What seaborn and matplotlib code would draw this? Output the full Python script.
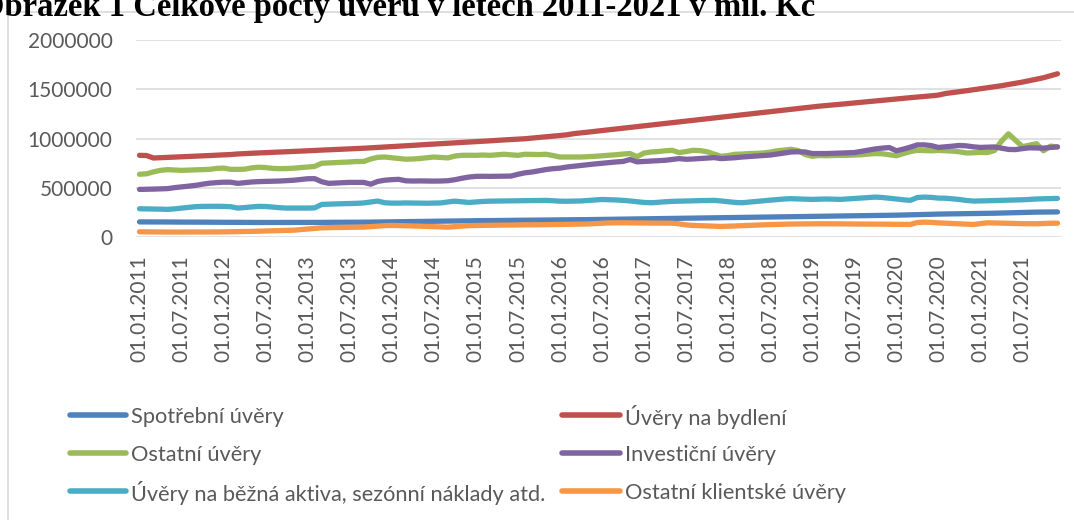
import matplotlib
matplotlib.use('Agg')
import matplotlib.pyplot as plt
from matplotlib.lines import Line2D
from matplotlib.patches import Rectangle
from matplotlib.ticker import FuncFormatter
import numpy as np
import pandas as pd
import seaborn as sns

# --- Data (thousands CZK), monthly 01/2011 - 12/2021 ---
months = pd.date_range('2011-01-01', '2021-12-01', freq='MS')

spotrebni = [
    158, 158, 157, 157, 157, 156, 156, 156, 155, 155, 155, 154,
    154, 154, 153, 153, 152, 152, 152, 152, 152, 152, 152, 153,
    153, 153, 153, 154, 154, 154, 155, 155, 155, 156, 157, 158,
    159, 160, 161, 162, 163, 164, 165, 166, 167, 167, 168, 169,
    170, 171, 171, 172, 173, 173, 174, 175, 175, 176, 177, 177,
    178, 179, 180, 180, 181, 182, 183, 184, 185, 186, 187, 188,
    189, 190, 191, 192, 193, 194, 195, 196, 197, 198, 199, 200,
    201, 202, 203, 204, 205, 206, 207, 208, 209, 210, 211, 212,
    213, 214, 215, 216, 217, 218, 219, 220, 221, 222, 223, 224,
    226, 228, 230, 232, 234, 235, 237, 238, 239, 240, 241, 242,
    243, 244, 246, 248, 250, 252, 254, 256, 257, 258, 258, 259,
]
bydleni = [
    832, 830, 805, 808, 811, 815, 818, 821, 824, 827, 830, 834,
    837, 840, 846, 850, 853, 856, 859, 862, 866, 869, 872, 875,
    878, 882, 885, 888, 891, 894, 898, 901, 904, 908, 912, 917,
    921, 925, 929, 933, 938, 942, 946, 950, 954, 959, 963, 967,
    971, 975, 979, 984, 988, 992, 996, 1000, 1007, 1013, 1020, 1026,
    1033, 1040, 1052, 1059, 1067, 1075, 1083, 1091, 1099, 1107, 1115, 1123,
    1131, 1139, 1147, 1155, 1163, 1171, 1179, 1187, 1195, 1203, 1211, 1219,
    1227, 1235, 1243, 1251, 1259, 1267, 1275, 1283, 1291, 1299, 1307, 1315,
    1323, 1330, 1336, 1343, 1349, 1356, 1363, 1369, 1376, 1382, 1389, 1396,
    1402, 1409, 1416, 1422, 1429, 1435, 1442, 1458, 1467, 1476, 1486, 1496,
    1506, 1516, 1526, 1537, 1549, 1561, 1574, 1588, 1603, 1618, 1638, 1658,
]
ostatni = [
    640, 645, 665, 680, 687, 683, 680, 682, 685, 688, 690, 700,
    703, 690, 690, 692, 705, 712, 708, 700, 697, 698, 702, 708,
    713, 720, 752, 755, 757, 760, 765, 770, 770, 795, 812, 815,
    808, 800, 793, 795, 800, 808, 815, 810, 806, 825, 832, 833,
    832, 835, 832, 838, 843, 838, 832, 843, 842, 840, 843, 830,
    815, 815, 815, 815, 818, 822, 828, 833, 838, 845, 850, 818,
    855, 866, 870, 878, 883, 860, 870, 883, 880, 868, 845, 822,
    830, 843, 845, 850, 852, 856, 865, 878, 885, 893, 880, 840,
    822, 830, 828, 830, 832, 832, 835, 838, 845, 850, 848, 838,
    828, 850, 870, 883, 880, 878, 882, 878, 875, 868, 856, 858,
    862, 860, 880, 975, 1050, 985, 920, 935, 950, 878, 925, 918,
]
investicni = [
    487, 488, 490, 492, 495, 505, 512, 520, 528, 540, 550, 556,
    560, 560, 548, 555, 562, 566, 568, 570, 572, 576, 580, 588,
    595, 596, 565, 548, 552, 555, 558, 558, 558, 540, 568, 580,
    586, 589, 574, 572, 573, 572, 571, 572, 575, 585, 600, 612,
    619, 620, 619, 620, 620, 622, 640, 655, 663, 675, 688, 697,
    702, 714, 722, 730, 738, 745, 752, 758, 765, 770, 790, 766,
    770, 775, 779, 782, 790, 799, 792, 795, 800, 805, 809, 799,
    803, 808, 815, 820, 825, 830, 835, 845, 855, 866, 868, 866,
    850, 850, 850, 852, 855, 858, 860, 872, 885, 897, 905, 911,
    878, 895, 915, 938, 938, 930, 912, 918, 925, 932, 928, 918,
    912, 914, 917, 905, 892, 890, 900, 908, 907, 905, 912, 917,
]
bezna_aktiva = [
    291, 290, 289, 287, 285, 290, 298, 305, 312, 315, 316, 316,
    315, 312, 298, 303, 310, 315, 314, 308, 302, 298, 298, 298,
    298, 300, 335, 338, 340, 342, 344, 346, 350, 360, 369, 352,
    348, 348, 350, 349, 348, 347, 348, 350, 360, 368, 362, 355,
    360, 365, 368, 369, 370, 371, 372, 373, 374, 376, 376, 372,
    368, 367, 369, 370, 375, 380, 385, 383, 380, 376, 370, 362,
    355, 352, 356, 362, 366, 368, 370, 372, 374, 375, 376, 370,
    362, 355, 352, 358, 365, 372, 378, 384, 390, 393, 390, 388,
    386, 388, 390, 388, 386, 390, 395, 400, 405, 409, 405, 398,
    390, 382, 376, 405, 409, 406, 399, 398, 392, 385, 375, 369,
    370, 372, 374, 376, 378, 380, 382, 386, 390, 392, 394, 396,
]
klientske = [
    58, 57, 56, 55, 55, 55, 55, 54, 54, 54, 55, 56,
    57, 58, 60, 61, 62, 64, 65, 67, 69, 71, 74, 80,
    86, 92, 98, 100, 101, 102, 103, 104, 105, 110, 115, 120,
    122, 121, 119, 117, 115, 112, 110, 107, 105, 110, 116, 120,
    122, 123, 124, 125, 126, 127, 127, 128, 128, 129, 130, 130,
    131, 132, 133, 134, 137, 141, 145, 148, 149, 149, 148, 147,
    147, 146, 146, 145, 145, 138, 128, 122, 120, 117, 114, 112,
    114, 117, 120, 123, 126, 129, 131, 133, 135, 136, 137, 138,
    139, 139, 139, 138, 138, 137, 137, 136, 136, 135, 135, 134,
    133, 132, 132, 152, 155, 153, 148, 145, 142, 139, 135, 132,
    140, 149, 147, 145, 143, 141, 140, 139, 139, 142, 144, 145,
]

series_names = [
    'Spotřební úvěry',
    'Úvěry na bydlení',
    'Ostatní úvěry',
    'Investiční úvěry',
    'Úvěry na běžná aktiva, sezónní náklady atd.',
    'Ostatní klientské úvěry',
]
series_values = [spotrebni, bydleni, ostatni, investicni, bezna_aktiva, klientske]
colors = ['#4F81BD', '#C0504D', '#9BBB59', '#8064A2', '#4BACC6', '#F79646']

y_ticks = [0, 500000, 1000000, 1500000, 2000000]
x_tick_idx = list(range(0, len(months), 6))
x_tick_labels = [m.strftime('%d.%m.%Y') for m in months[::6]]

title = 'Obrázek 1 Celkové počty úvěrů v letech 2011-2021 v mil. Kč'

# --- Long-form table for seaborn ---
frames = []
for name, vals in zip(series_names, series_values):
    frames.append(pd.DataFrame({
        'idx': np.arange(len(months)),
        'value': np.array(vals) * 1000,
        'series': name,
    }))
df = pd.concat(frames, ignore_index=True)

sns.set_theme(style='white')
plt.rcParams['font.family'] = ['Lato', 'DejaVu Sans']

W, H = 1074, 520
fig = plt.figure(figsize=(W / 100, H / 100), dpi=100)
ax = fig.add_axes([136 / W, 1 - 237.5 / H, 925 / W, 197.5 / H])

sns.lineplot(data=df, x='idx', y='value', hue='series', hue_order=series_names,
             palette=colors, linewidth=3.8, sort=False, legend=False,
             solid_capstyle='round', solid_joinstyle='round', ax=ax)

ax.set_xlim(-0.5, len(months) - 0.5)
ax.set_ylim(0, 2000000)
ax.set_yticks(y_ticks)
ax.yaxis.set_major_formatter(FuncFormatter(lambda v, _: f'{int(v)}'))
ax.set_xticks(x_tick_idx)
ax.set_xticklabels(x_tick_labels, rotation=90)
ax.set_xlabel('')
ax.set_ylabel('')
ax.grid(axis='y', color='#D9D9D9', linewidth=1.1)
ax.grid(axis='x', visible=False)
ax.set_axisbelow(True)
for s in ax.spines.values():
    s.set_visible(False)
ax.tick_params(axis='y', length=0, pad=17, labelsize=15, labelcolor='#595959')
ax.tick_params(axis='x', length=0, pad=13, labelsize=15, labelcolor='#595959')

# legend laid out like the Excel one: 3 rows x 2 columns, fixed positions
leg_rows = [415, 453, 491]
leg_cols = [(70, 126, 131), (562, 620, 625)]   # line start, line end, text x
order = [(0, 0, 0), (1, 0, 1), (2, 1, 0), (3, 1, 1), (4, 2, 0), (5, 2, 1)]
for k, r, c in order:
    x0, x1, xt = leg_cols[c]
    yy = 1 - leg_rows[r] / H
    fig.add_artist(Line2D([x0 / W, x1 / W], [yy, yy], transform=fig.transFigure,
                          color=colors[k], lw=4, solid_capstyle='round'))
    fig.text(xt / W, yy, series_names[k], ha='left', va='center_baseline',
             fontsize=15.7, color='#595959')

# chart frame (light border as in the source screenshot)
fig.add_artist(Rectangle((8 / W, -0.05), 1.1, 1 - 12 / H + 0.05,
                         transform=fig.transFigure, fill=False,
                         edgecolor='#D9D9D9', linewidth=1.2))

# cropped caption above the chart
fig.text(815 / W, 1 - 16 / H, title, ha='right', va='baseline',
         family=['Liberation Serif', 'DejaVu Serif'], fontweight='bold',
         fontsize=23.5, color='black')

fig.savefig('out.png', dpi=100)
